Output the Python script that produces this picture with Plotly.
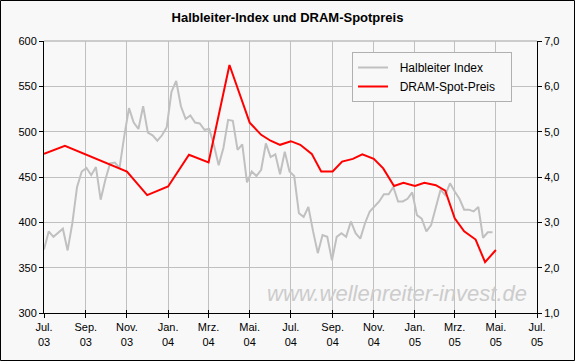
import pandas as pd
import plotly.graph_objects as go

# --- Data ---
# Halbleiter Index, weekly values starting 2003-07-01
index_start = "2003-07-01"
index_values = [
    370, 390, 384, 389, 393, 369, 399, 439, 456, 460,
    452, 461, 425, 447, 465, 466, 460, 495, 526, 510,
    503, 528, 499, 496, 490, 496, 505, 544, 556, 528,
    514, 518, 510, 509, 502, 503, 485, 463, 482, 513,
    512, 480, 486, 444, 456, 451, 458, 487, 472, 475,
    453, 478, 456, 451, 410, 406, 417, 390, 366, 386,
    384, 358, 384, 388, 384, 401, 388, 382, 399, 412,
    418, 423, 431, 431, 439, 423, 423, 426, 433, 408,
    404, 390, 397, 417, 436, 430, 443, 434, 426, 414,
    414, 412, 417, 383, 389, 389,
]
index_dates = pd.date_range(index_start, periods=len(index_values), freq="7D")

# DRAM spot price (right axis)
dram_dates = [
    "2003-07-01", "2003-08-01", "2003-11-01", "2003-12-01", "2004-01-01",
    "2004-02-01", "2004-03-01", "2004-04-01", "2004-05-01", "2004-05-18",
    "2004-06-01", "2004-06-15", "2004-07-01", "2004-07-15", "2004-08-01",
    "2004-08-15", "2004-09-01", "2004-09-15", "2004-10-01", "2004-10-15",
    "2004-11-01", "2004-11-15", "2004-12-01", "2004-12-15", "2005-01-01",
    "2005-01-15", "2005-02-01", "2005-02-15", "2005-03-01", "2005-03-15",
    "2005-04-01", "2005-04-15", "2005-05-01",
]
dram_values = [
    4.51, 4.69, 4.12, 3.60, 3.79,
    4.49, 4.32, 6.47, 5.20, 4.93,
    4.80, 4.71, 4.79, 4.71, 4.51,
    4.12, 4.12, 4.34, 4.40, 4.50,
    4.40, 4.19, 3.80, 3.87, 3.80,
    3.87, 3.82, 3.70, 3.09, 2.80,
    2.62, 2.12, 2.39,
]

x_tick_dates = [
    "2003-07-01", "2003-09-01", "2003-11-01", "2004-01-01", "2004-03-01",
    "2004-05-01", "2004-07-01", "2004-09-01", "2004-11-01", "2005-01-01",
    "2005-03-01", "2005-05-01", "2005-07-01",
]
x_tick_labels = [
    "Jul.<br>03", "Sep.<br>03", "Nov.<br>03", "Jan.<br>04", "Mrz.<br>04",
    "Mai.<br>04", "Jul.<br>04", "Sep.<br>04", "Nov.<br>04", "Jan.<br>05",
    "Mrz.<br>05", "Mai.<br>05", "Jul.<br>05",
]

series_names = ["Halbleiter Index", "DRAM-Spot-Preis"]
title_text = "Halbleiter-Index und DRAM-Spotpreis"
watermark = "www.wellenreiter-invest.de"

W, H = 575, 361
ML, MR, MT, MB = 44, 38, 41, 48
font_family = "Liberation Sans, Arial, sans-serif"
grid = "#C0C0C0"
bg = "#F8F8F8"
NB = "\u00a0"
x_range = ["2003-07-01", "2005-07-01"]

fig = go.Figure()
fig.add_trace(go.Scatter(
    x=index_dates, y=index_values, name=NB * 2 + series_names[0] + NB * 3,
    mode="lines", line=dict(color="#C0C0C0", width=2), yaxis="y",
))
fig.add_trace(go.Scatter(
    x=pd.to_datetime(dram_dates), y=dram_values,
    name=NB * 2 + series_names[1] + NB * 3,
    mode="lines", line=dict(color="#FF0000", width=2), yaxis="y2",
))
# empty helper trace so the inner-tick x axis is drawn
fig.add_trace(go.Scatter(x=[], y=[], xaxis="x2", yaxis="y", showlegend=False,
                         hoverinfo="skip"))

pw = W - ML - MR
ph = H - MT - MB

fig.update_layout(
    width=W, height=H,
    margin=dict(l=ML, r=MR, t=MT, b=MB, pad=0),
    paper_bgcolor=bg, plot_bgcolor=bg,
    separators=",.",
    font=dict(family=font_family, size=11, color="#000000"),
    title=dict(text="<b>" + title_text + "</b>", x=0.5, xanchor="center",
               y=1 - 17 / H, yanchor="middle",
               font=dict(size=13, family=font_family, color="#000000")),
    showlegend=True,
    hovermode=False,
    legend=dict(
        x=(352 - ML) / pw, y=1 - (52 - MT) / ph, xanchor="left", yanchor="top",
        bgcolor=bg, bordercolor="#B0B0B0", borderwidth=1,
        font=dict(size=12, family=font_family, color="#000000"),
        tracegroupgap=0, itemwidth=30,
    ),
    xaxis=dict(
        type="date", range=x_range,
        tickmode="array", tickvals=x_tick_dates, ticktext=x_tick_labels,
        showgrid=True, gridcolor=grid, gridwidth=1,
        showline=True, linecolor="#000000", linewidth=1,
        ticks="outside", ticklen=4, tickcolor="#000000",
        tickfont=dict(size=11), zeroline=False,
    ),
    xaxis2=dict(
        type="date", range=x_range, overlaying="x", anchor="y", side="bottom",
        tickmode="array", tickvals=x_tick_dates, showticklabels=False,
        showgrid=False, showline=False, zeroline=False,
        ticks="inside", ticklen=3, tickcolor="#000000",
    ),
    yaxis=dict(
        range=[300, 600], tickmode="linear", tick0=300, dtick=50,
        showgrid=True, gridcolor=grid, gridwidth=1,
        showline=True, linecolor="#000000", linewidth=1,
        ticks="outside", ticklen=4, tickcolor="#000000",
        tickfont=dict(size=11), zeroline=False,
    ),
    yaxis2=dict(
        range=[1, 7], tickmode="linear", tick0=1, dtick=1, tickformat=".1f",
        overlaying="y", side="right", showgrid=False,
        showline=True, linecolor="#000000", linewidth=1,
        ticks="outside", ticklen=4, tickcolor="#000000",
        tickfont=dict(size=11), zeroline=False,
    ),
    annotations=[dict(
        text=watermark, xref="paper", yref="paper",
        x=(397 - ML) / pw, y=1 - (293 - MT) / ph,
        xanchor="center", yanchor="middle", showarrow=False,
        font=dict(size=22, color="#CCCCCC", family=font_family, style="italic"),
    )],
    shapes=[
        dict(type="line", xref="paper", yref="paper", x0=0, x1=1, y0=1, y1=1,
             line=dict(color="#A0A0A0", width=1), layer="below"),
        dict(type="rect", xref="paper", yref="paper",
             x0=-(ML - 0.5) / pw, x1=1 + (MR - 0.5) / pw,
             y0=-(MB - 0.5) / ph, y1=1 + (MT - 0.5) / ph,
             line=dict(color="#000000", width=1), fillcolor="rgba(0,0,0,0)"),
    ],
)

fig.write_html(
    "out.html",
    config={"displayModeBar": False, "staticPlot": True},
    post_script="document.body.style.margin='0';document.body.style.overflow='hidden';",
)
